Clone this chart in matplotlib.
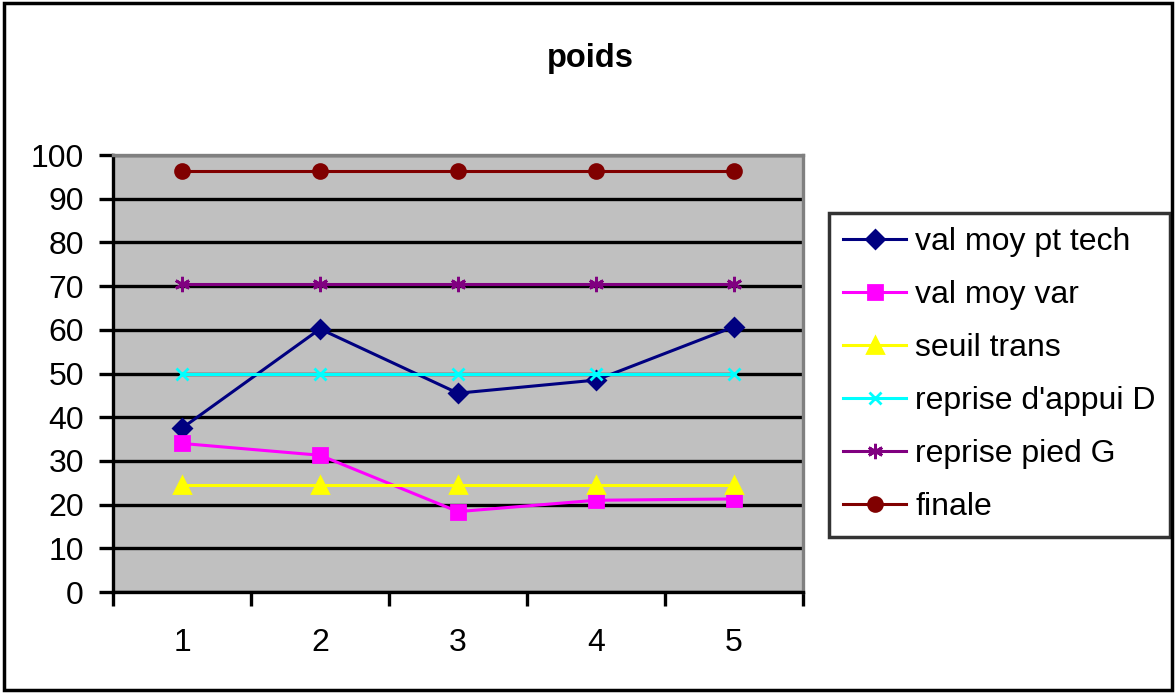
import matplotlib.pyplot as plt
from matplotlib.patches import Rectangle

plt.rcParams['font.family'] = ['Liberation Sans', 'DejaVu Sans']

categories = [1, 2, 3, 4, 5]
val_moy_pt_tech = [37.5, 60.2, 45.5, 48.5, 60.7]
val_moy_var = [34.0, 31.3, 18.4, 21.0, 21.3]
seuil_trans = [24.5, 24.5, 24.5, 24.5, 24.5]
reprise_appui_d = [49.8, 49.8, 49.8, 49.8, 49.8]
reprise_pied_g = [70.5, 70.5, 70.5, 70.5, 70.5]
finale = [96.3, 96.3, 96.3, 96.3, 96.3]

series = [
    ('val moy pt tech', val_moy_pt_tech, '#000080', 'D', 9),
    ('val moy var', val_moy_var, '#FF00FF', 's', 10),
    ('seuil trans', seuil_trans, '#FFFF00', '^', 11),
    ("reprise d'appui D", reprise_appui_d, '#00FFFF', 'x', 9),
    ('reprise pied G', reprise_pied_g, '#800080', (6, 2, 0), 11),
    ('finale', finale, '#800000', 'o', 10),
]

fig = plt.figure(figsize=(11.76, 6.93), dpi=100)
ax = fig.add_axes([0.0961, 0.1457, 0.5867, 0.6306])
ax.set_facecolor('#C0C0C0')

for label, vals, color, marker, ms in series:
    ax.plot(categories, vals, color=color, lw=2.2, marker=marker, markersize=ms,
            markeredgecolor=color, markerfacecolor=color, markeredgewidth=2,
            label=label, zorder=3)

ax.set_xlim(0.5, 5.5)
ax.set_ylim(0, 100)
ax.set_yticks(range(0, 101, 10))
ax.yaxis.grid(True, color='black', lw=2.4)
ax.set_axisbelow(True)

# category labels sit between the boundary ticks
ax.set_xticks([0.5, 1.5, 2.5, 3.5, 4.5, 5.5])
ax.set_xticklabels([])
ax.set_xticks(categories, minor=True)
ax.set_xticklabels([str(c) for c in categories], minor=True)
ax.tick_params(axis='x', which='major', length=10, width=2.4, direction='out')
ax.tick_params(axis='x', which='minor', length=0, pad=26, labelsize=23)
ax.tick_params(axis='y', length=10, width=2.4, direction='out', pad=11, labelsize=23)

for side in ['left', 'bottom']:
    ax.spines[side].set_color('black')
    ax.spines[side].set_linewidth(2.4)
for side in ['top', 'right']:
    ax.spines[side].set_color('#808080')
    ax.spines[side].set_linewidth(2.4)

fig.text(0.502, 0.915, 'poids', ha='center', va='center', fontsize=23.5, fontweight='bold')

leg = ax.legend(loc='upper left', bbox_to_anchor=(0.705, 0.693), bbox_transform=fig.transFigure,
                borderaxespad=0, fontsize=23, frameon=True, fancybox=False,
                handlelength=1.95, handletextpad=0.3, labelspacing=0.72, borderpad=0.45)
leg.get_frame().set_edgecolor('black')
leg.get_frame().set_linewidth(2.5)

fig.patches.append(Rectangle((0.003, 0.004), 0.994, 0.992, transform=fig.transFigure,
                             fill=False, edgecolor='black', lw=2.5))

fig.savefig('out.png', dpi=100)
